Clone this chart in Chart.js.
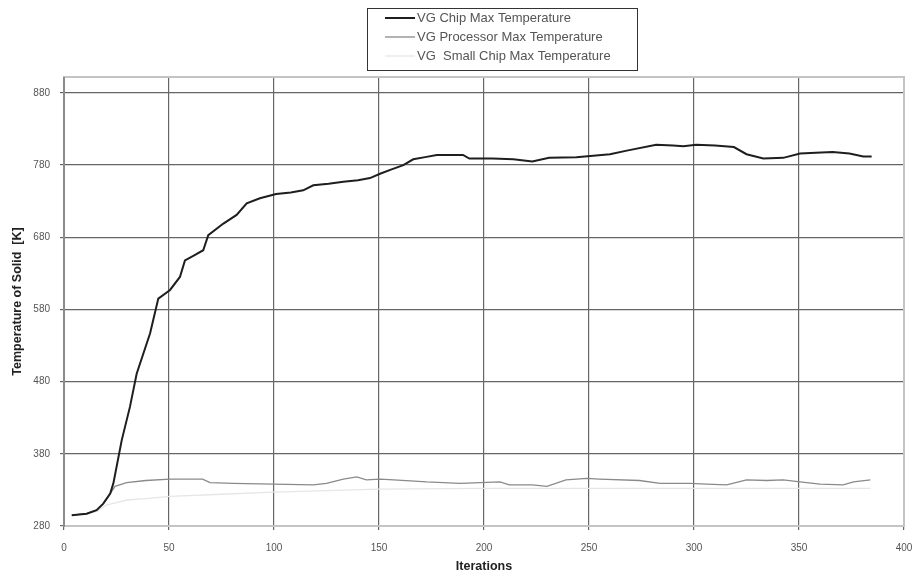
<!DOCTYPE html>
<html lang="en">
<head>
<meta charset="UTF-8">
<title>VG Max Temperature</title>
<script src="https://cdn.jsdelivr.net/npm/chart.js"></script>
<style>
  * { margin: 0; padding: 0; }
  body { background: #fff; width: 913px; height: 578px; overflow: hidden; }
</style>
</head>
<body>
<canvas id="chart" width="913" height="578"></canvas>
<script>
// values
const chipIter = [3.7, 10.8, 15.5, 18.7, 22, 23.5, 27.5, 31.4, 34.6, 41, 44.9, 50.5, 55.2, 57.6, 62, 66.3, 68.7, 75.9, 82.2, 87, 93.3, 101, 108, 113.9, 118.7, 126, 133, 140, 145.7, 150.5, 156, 161.6, 166.3, 172, 177.5, 184, 190, 193, 204, 214, 223, 231, 244, 260, 268, 282, 290, 295, 301, 310, 319, 325, 333, 342.5, 350.5, 358, 366, 374, 380.6, 384.6];
const chipTemp = [295, 297, 302, 311, 325, 339, 399, 445, 491, 547, 595, 607, 625, 648, 655, 662, 683, 699, 711, 727, 734, 740, 742, 745, 752, 754, 757, 759, 762, 768, 774, 780, 788, 791, 794, 794, 794, 789, 789, 788, 785, 790, 791, 795, 800, 808, 807, 806, 808, 807, 805, 795, 789, 790, 796, 797, 798, 796, 792, 792];

const procIter = [3.7, 10.8, 15.5, 18.7, 22, 24.3, 29.8, 39, 50.5, 66, 69.5, 80.5, 99.7, 118.7, 125, 133, 139.4, 144, 150.5, 157, 172.7, 188.6, 207.6, 212, 223, 230, 239, 249, 255, 274, 283.8, 298, 306, 315.6, 325, 334.6, 342.5, 350.5, 360, 371, 376, 384];
const procTemp = [295, 297, 302, 311, 325, 335, 340, 343, 345, 345, 340, 339, 338, 337, 339, 345, 348, 344, 345, 344, 341, 339, 341, 337, 337, 335, 344, 346, 345, 343, 339, 339, 338, 337, 344, 343, 344, 341, 338, 337, 341, 344];

const smallIter = [3.7, 10.8, 15.5, 20, 26, 30, 39, 50.5, 75, 100, 125, 150, 200, 250, 300, 350, 384];
const smallTemp = [295, 297, 300, 309, 313, 316, 318, 321, 324, 327, 329, 331, 332, 332, 332, 332, 332];

const yTicks = [280, 380, 480, 580, 680, 780, 880];
const seriesNames = ['VG Chip Max Temperature', 'VG Processor Max Temperature', 'VG  Small Chip Max Temperature'];

const toPoints = (xs, ys) => xs.map((x, i) => ({ x: x, y: ys[i] }));
const fontFamily = "'Liberation Sans', Arial, sans-serif";
const tickFont = { family: fontFamily, size: 10 };
const titleFont = { family: fontFamily, size: 12.5, weight: 'bold' };

// boxed legend in the top centre, like the original
const boxLegend = {
  id: 'boxLegend',
  afterDraw(chart) {
    const ctx = chart.ctx;
    ctx.save();
    ctx.strokeStyle = '#333';
    ctx.lineWidth = 1;
    ctx.strokeRect(367.5, 8.5, 270, 62);
    ctx.font = '13px ' + fontFamily;
    ctx.textBaseline = 'middle';
    chart.data.datasets.forEach((ds, i) => {
      const y = 18 + i * 19;
      ctx.strokeStyle = ds.borderColor;
      ctx.lineWidth = ds.borderWidth;
      ctx.beginPath();
      ctx.moveTo(385, y);
      ctx.lineTo(415, y);
      ctx.stroke();
      ctx.fillStyle = '#555';
      ctx.fillText(ds.label, 417, y);
    });
    ctx.restore();
  }
};

// light frame around the plot area
const plotFrame = {
  id: 'plotFrame',
  beforeDatasetsDraw(chart) {
    const a = chart.chartArea, ctx = chart.ctx;
    ctx.save();
    ctx.strokeStyle = '#c4c4c4';
    ctx.lineWidth = 2;
    ctx.strokeRect(a.left, a.top, a.right - a.left, a.bottom - a.top);
    ctx.strokeStyle = '#555';
    ctx.lineWidth = 1;
    ctx.beginPath();
    ctx.moveTo(a.left, a.top);
    ctx.lineTo(a.left, a.bottom + 1);
    ctx.stroke();
    ctx.restore();
  }
};

new Chart(document.getElementById('chart'), {
  type: 'line',
  data: {
    datasets: [
      { label: seriesNames[0], data: toPoints(chipIter, chipTemp), borderColor: '#1e1e1e', borderWidth: 2, order: 0 },
      { label: seriesNames[1], data: toPoints(procIter, procTemp), borderColor: '#8a8a8a', borderWidth: 1.3, order: 1 },
      { label: seriesNames[2], data: toPoints(smallIter, smallTemp), borderColor: '#e6e6e6', borderWidth: 1.3, order: 2 }
    ]
  },
  options: {
    responsive: false,
    animation: false,
    devicePixelRatio: 1,
    layout: { padding: { top: 77, right: 9, left: 0, bottom: 0 } },
    elements: { point: { radius: 0 }, line: { tension: 0 } },
    plugins: { legend: { display: false }, tooltip: { enabled: false } },
    scales: {
      x: {
        type: 'linear',
        min: 0, max: 400,
        ticks: { stepSize: 50, color: '#555', font: tickFont, padding: 12 },
        grid: { color: '#666', lineWidth: 1.2, tickLength: 4 },
        border: { display: false },
        title: { display: true, text: 'Iterations', color: '#222', font: titleFont, padding: { top: 4 } },
        afterFit(s) { s.height = 52; s.paddingLeft = 0; s.paddingRight = 0; }
      },
      y: {
        type: 'linear',
        min: 280, max: 902,
        afterBuildTicks(s) { s.ticks = yTicks.map(v => ({ value: v })); },
        ticks: { color: '#555', font: tickFont, padding: 10 },
        grid: { color: '#666', lineWidth: 1.2, tickLength: 4 },
        border: { display: false },
        title: { display: true, text: 'Temperature of Solid  [K]', color: '#222', font: titleFont, padding: { top: 10, bottom: 0 } },
        afterFit(s) { s.width = 64; s.paddingTop = 0; s.paddingBottom = 0; }
      }
    }
  },
  plugins: [plotFrame, boxLegend]
});
</script>
</body>
</html>
